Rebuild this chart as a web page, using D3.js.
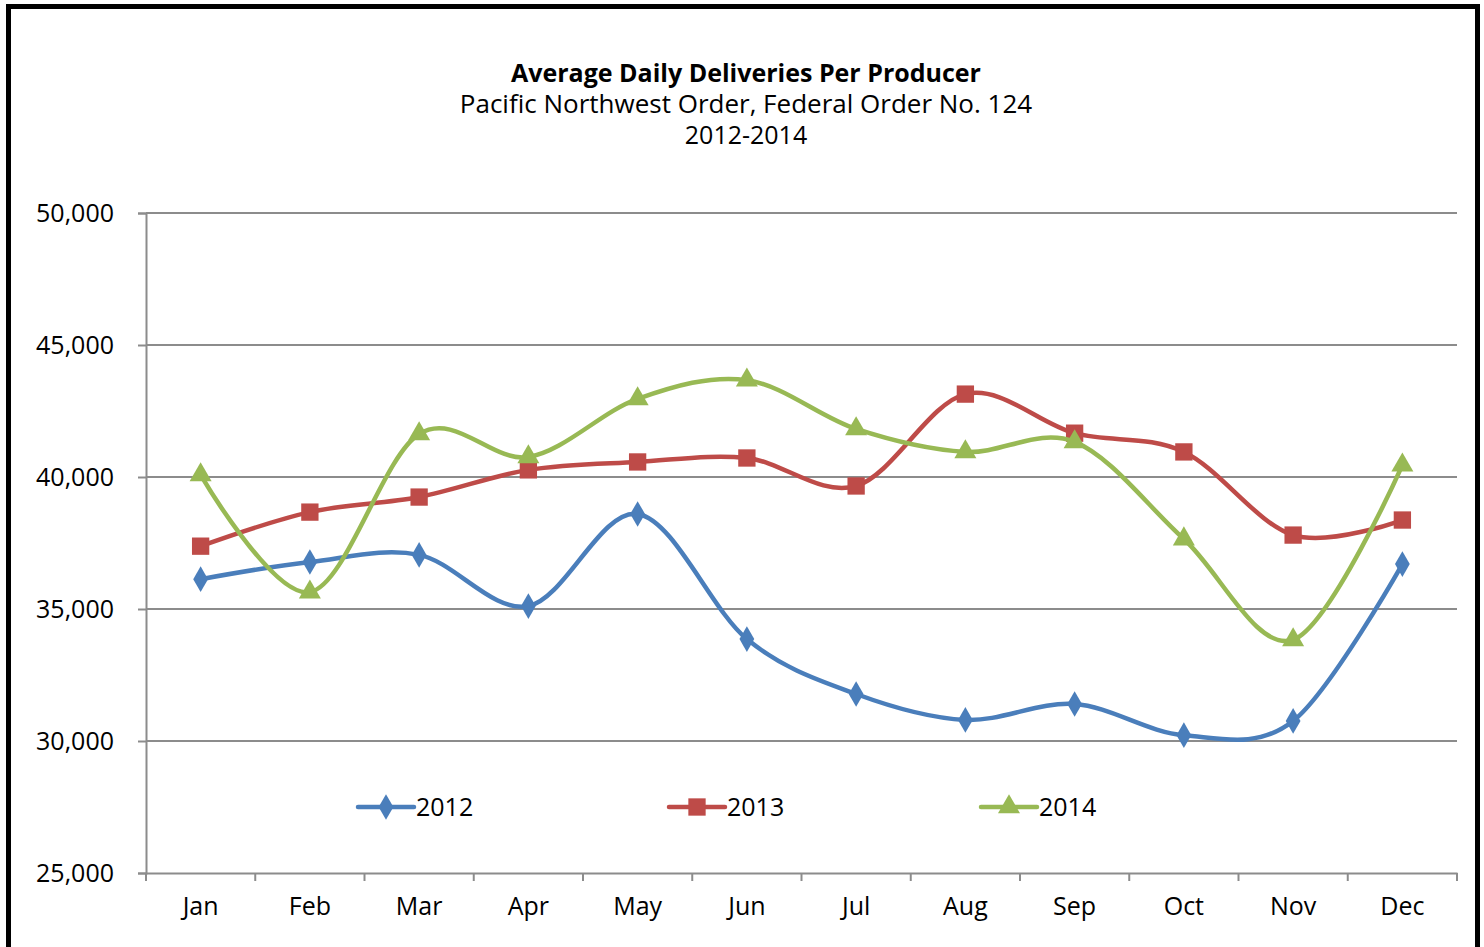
<!DOCTYPE html>
<html>
<head>
<meta charset="utf-8">
<script src="https://cdn.jsdelivr.net/npm/d3@7"></script>
<style>
  body { margin: 0; background: #fff; }
  svg { display: block; }
  text { font-family: "Open Sans", "DejaVu Sans", sans-serif; fill: #000; }
</style>
</head>
<body>
<div id="chart"></div>
<script>
'use strict';

var months = ['Jan', 'Feb', 'Mar', 'Apr', 'May', 'Jun', 'Jul', 'Aug', 'Sep', 'Oct', 'Nov', 'Dec'];
var values2012 = [36130, 36780, 37050, 35110, 38600, 33860, 31780, 30800, 31400, 30220, 30760, 36700];
var values2013 = [37380, 38670, 39240, 40270, 40570, 40720, 39660, 43140, 41660, 40950, 37800, 38370];
var values2014 = [40080, 35640, 41630, 40760, 42960, 43670, 41820, 40950, 41330, 37650, 33830, 40450];
var yTicks = [25000, 30000, 35000, 40000, 45000, 50000];

var series = [
  { name: '2012', values: values2012, color: '#4a7ebb', marker: d3.symbolDiamond, size: 190 },
  { name: '2013', values: values2013, color: '#be4b48', marker: d3.symbolSquare, size: 300 },
  { name: '2014', values: values2014, color: '#98b954', marker: d3.symbolTriangle, size: 210 }
];

var width = 1484, height = 947;
var plotLeft = 146, plotRight = 1457, plotTop = 213, plotBottom = 873;

var svg = d3.select('#chart')
    .append('svg')
    .attr('width', width)
    .attr('height', height);

// outer frame
svg.append('rect')
    .attr('x', 8.5).attr('y', 6.5)
    .attr('width', 1469).attr('height', 1000)
    .attr('fill', 'none')
    .attr('stroke', '#000')
    .attr('stroke-width', 5);

// titles
var titles = [
  { t: 'Average Daily Deliveries Per Producer', y: 82, w: 'bold', s: 25 },
  { t: 'Pacific Northwest Order, Federal Order No. 124', y: 113, w: 'normal', s: 26 },
  { t: '2012-2014', y: 144, w: 'normal', s: 25 }
];
svg.selectAll('.title')
    .data(titles)
    .enter()
    .append('text')
    .attr('class', 'title')
    .attr('x', 746)
    .attr('y', function (d) { return d.y; })
    .attr('text-anchor', 'middle')
    .style('font-size', function (d) { return d.s + 'px'; })
    .style('font-weight', function (d) { return d.w; })
    .text(function (d) { return d.t; });

var x = d3.scaleBand().domain(months).range([plotLeft, plotRight]);
var y = d3.scaleLinear().domain([25000, 50000]).range([plotBottom, plotTop]);

// gridlines
svg.selectAll('.grid')
    .data(yTicks.slice(1))
    .enter()
    .append('line')
    .attr('x1', plotLeft).attr('x2', plotRight)
    .attr('y1', function (d) { return y(d); })
    .attr('y2', function (d) { return y(d); })
    .attr('stroke', '#8c8c8c')
    .attr('stroke-width', 2);

// y axis
var yAxis = svg.append('g')
    .attr('transform', 'translate(' + plotLeft + ',0)')
    .call(d3.axisLeft(y).tickValues(yTicks).tickSize(8).tickPadding(24).tickFormat(d3.format(',')));
yAxis.selectAll('text').style('font-size', '25px').attr('font-family', null);

// x axis
var xAxis = svg.append('g')
    .attr('transform', 'translate(0,' + plotBottom + ')')
    .call(d3.axisBottom(x).tickSize(0).tickPadding(24));
xAxis.selectAll('text').style('font-size', '25px').attr('font-family', null);

// category boundary ticks
var bounds = months.map(function (m) { return x(m); }).concat([plotRight]);
svg.selectAll('.xtick')
    .data(bounds)
    .enter()
    .append('line')
    .attr('x1', function (d) { return d; })
    .attr('x2', function (d) { return d; })
    .attr('y1', plotBottom).attr('y2', plotBottom + 8)
    .attr('stroke', '#8c8c8c')
    .attr('stroke-width', 2);

svg.selectAll('.domain, .tick line')
    .attr('stroke', '#8c8c8c')
    .attr('stroke-width', 2);

var cx = function (i) { return x(months[i]) + x.bandwidth() / 2; };

var line = d3.line()
    .x(function (d, i) { return cx(i); })
    .y(function (d) { return y(d); })
    .curve(d3.curveCardinal.tension(0));

series.forEach(function (s) {
  svg.append('path')
      .datum(s.values)
      .attr('d', line)
      .attr('fill', 'none')
      .attr('stroke', s.color)
      .attr('stroke-width', 4.5);

  svg.selectAll(null)
      .data(s.values)
      .enter()
      .append('path')
      .attr('d', d3.symbol().type(s.marker).size(s.size))
      .attr('transform', function (d, i) { return 'translate(' + cx(i) + ',' + y(d) + ')'; })
      .attr('fill', s.color);
});

// legend
var legendX = [358, 669, 981];
var legend = svg.selectAll('.legend')
    .data(series)
    .enter()
    .append('g')
    .attr('transform', function (d, i) { return 'translate(' + legendX[i] + ',807)'; });

legend.append('line')
    .attr('x1', 0).attr('x2', 56)
    .attr('stroke', function (d) { return d.color; })
    .attr('stroke-width', 4.5)
    .attr('stroke-linecap', 'round');
legend.append('path')
    .attr('d', function (d) { return d3.symbol().type(d.marker).size(d.size)(); })
    .attr('transform', 'translate(28,0)')
    .attr('fill', function (d) { return d.color; });
legend.append('text')
    .attr('x', 58)
    .attr('dy', '0.36em')
    .style('font-size', '25px')
    .text(function (d) { return d.name; });
</script>
</body>
</html>
